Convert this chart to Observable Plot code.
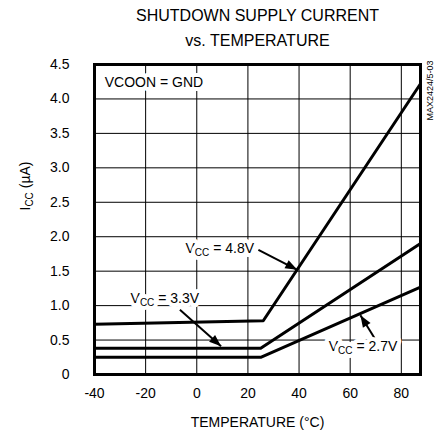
<!DOCTYPE html>
<html><head><meta charset="utf-8">
<script src="https://cdn.jsdelivr.net/npm/d3@7"></script>
<script src="https://cdn.jsdelivr.net/npm/@observablehq/plot@0.6"></script>
<style>body{margin:0;background:#fff} svg{display:block}</style>
</head><body><div id="chart"></div>
<script>
// ---- data ----
const titleLines = ["SHUTDOWN SUPPLY CURRENT", "vs. TEMPERATURE"];
const xLabel = "TEMPERATURE (°C)";
const yLabel = "ICC (µA)";
const noteText = "VCOON = GND";
const sideText = "MAX2424/5-03";
const xTicks = [-40, -20, 0, 20, 40, 60, 80];
const yTicks = [0, 0.5, 1.0, 1.5, 2.0, 2.5, 3.0, 3.5, 4.0, 4.5];
const xGrid = [-20, 0, 20, 40, 60, 80];
const yGrid = [0.5, 1.0, 1.5, 2.0, 2.5, 3.0, 3.5, 4.0];

const seriesNames = ["VCC = 4.8V", "VCC = 3.3V", "VCC = 2.7V"];
const temps48 = [-40, 26, 87.5];
const icc48   = [0.73, 0.78, 4.22];
const temps33 = [-40, 25, 87.5];
const icc33   = [0.38, 0.38, 1.90];
const temps27 = [-40, 25, 87.5];
const icc27   = [0.25, 0.25, 1.27];

// annotation positions (data units)
const labelX  = [-4.4, -25.9, 51.6];
const labelY  = [1.83, 1.10, 0.40];
const arrowX1 = [24.1, -6.6, 69.5];
const arrowY1 = [1.81, 0.94, 0.53];
const arrowX2 = [39.3, 9.5, 64.0];
const arrowY2 = [1.52, 0.41, 0.86];
const noteX = [-36];
const noteY = [4.24];

// ---- tables ----
const rows = [];
[[temps48, icc48], [temps33, icc33], [temps27, icc27]].forEach(([t, v], s) =>
  t.forEach((d, i) => rows.push({series: seriesNames[s], temp: d, icc: v[i]})));
const labels = seriesNames.map((n, i) => ({text: n, x: labelX[i], y: labelY[i]}));
const arrows = seriesNames.map((n, i) => ({x1: arrowX1[i], y1: arrowY1[i], x2: arrowX2[i], y2: arrowY2[i]}));
const notes = noteX.map((x, i) => ({text: noteText, x, y: noteY[i]}));

const halo = {fill: "black", stroke: "white", strokeWidth: 8, strokeLinejoin: "round", paintOrder: "stroke"};

const svg = Plot.plot({
  width: 438, height: 433,
  marginLeft: 94, marginRight: 18, marginTop: 64, marginBottom: 59,
  style: {fontFamily: "'Liberation Sans', Arial, sans-serif", fontSize: "14px", color: "black", background: "white"},
  x: {domain: [-40, 87.5]},
  y: {domain: [0, 4.5]},
  marks: [
    Plot.gridX(xGrid, {stroke: "black", strokeOpacity: 1, strokeWidth: 1}),
    Plot.gridY(yGrid, {stroke: "black", strokeOpacity: 1, strokeWidth: 1}),
    Plot.axisX(xTicks, {tickSize: 0, tickPadding: 14, fontSize: 14, label: null, tickFormat: d => String(d)}),
    Plot.axisY(yTicks, {tickSize: 0, tickPadding: 25, fontSize: 14, label: null,
      tickFormat: d => d === 0 ? "0" : d.toFixed(1)}),
    Plot.text(notes, {x: "x", y: "y", text: "text", textAnchor: "start", fontSize: 14, ...halo}),
    Plot.line(rows, {x: "temp", y: "icc", z: "series", stroke: "black", strokeWidth: 3}),
    Plot.link(arrows, {x1: "x1", y1: "y1", x2: "x2", y2: "y2", stroke: "black", strokeWidth: 2, markerEnd: "arrow"}),
    Plot.text(labels, {x: "x", y: "y", text: "text", textAnchor: "start", fontSize: 14, ...halo}),
    Plot.frame({stroke: "black", strokeWidth: 3}),
    Plot.text([titleLines[0]], {text: d => d, frameAnchor: "top", dy: -49, fontSize: 16, lineAnchor: "middle"}),
    Plot.text([titleLines[1]], {text: d => d, frameAnchor: "top", dy: -24, fontSize: 16, lineAnchor: "middle"}),
    Plot.text([xLabel], {text: d => d, frameAnchor: "bottom", dy: 48, fontSize: 14, lineAnchor: "middle"}),
    Plot.text([yLabel], {text: d => d, frameAnchor: "left", dx: -69, dy: -9, rotate: -90, fontSize: 14, lineAnchor: "middle"}),
    Plot.text([sideText], {text: d => d, frameAnchor: "top-right", dx: 10, dy: -4, rotate: -90, textAnchor: "end", fontSize: 9, lineAnchor: "middle"})
  ]
});

// subscripts "CC"
d3.select(svg).selectAll("text").each(function() {
  const t = this.textContent;
  let m = t.match(/^(V|I)CC(.*)$/);
  if (!m) return;
  const el = d3.select(this);
  el.text(null);
  el.append("tspan").text(m[1]);
  el.append("tspan").attr("font-size", 10).attr("dy", 3).text("CC");
  el.append("tspan").attr("dy", -3).text(m[2]);
});
// filled arrowheads
d3.select(svg).selectAll("marker").each(function() {
  const mk = d3.select(this);
  mk.attr("viewBox", "-13 -6 14 12").attr("markerUnits", "userSpaceOnUse")
    .attr("markerWidth", 14).attr("markerHeight", 12).attr("refX", 0).attr("refY", 0)
    .attr("fill", "black").attr("stroke", "none");
  mk.selectAll("path").attr("d", "M-12,-4.5L0,0L-12,4.5Z").attr("fill", "black").attr("stroke", "none");
});
document.getElementById("chart").append(svg);
</script></body></html>
